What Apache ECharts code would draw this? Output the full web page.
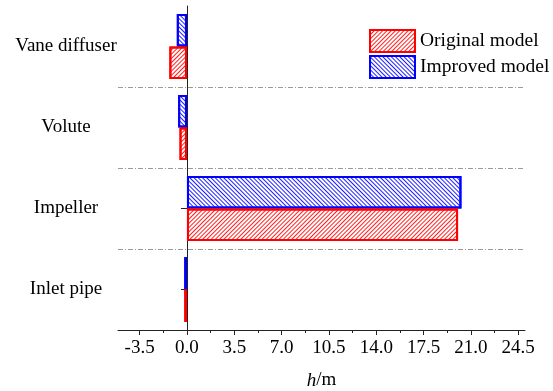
<!DOCTYPE html>
<html>
<head>
<meta charset="utf-8">
<script src="https://cdn.jsdelivr.net/npm/echarts@6/dist/echarts.min.js"></script>
<style>
  html, body { margin: 0; padding: 0; background: #fff; }
  #chart { width: 553px; height: 391px; }
</style>
</head>
<body>
<div id="chart"></div>
<script>
// categories from bottom to top
const categories = ['Inlet pipe', 'Impeller', 'Volute', 'Vane diffuser'];
// head loss h (m)
const originalModel = [-0.2, 20.05, -0.55, -1.3];
const improvedModel = [-0.2, 20.3, -0.65, -0.75];
// x axis tick labels and minor ticks
const tickLabels = [-3.5, 0, 3.5, 7, 10.5, 14, 17.5, 21, 24.5];
const minorTicks = [-1.75, 1.75, 5.25, 8.75, 12.25, 15.75, 19.25, 22.75];

const font = 'Liberation Serif';
let chart = echarts.init(document.getElementById('chart'));

function hatch(color, rot) {
  return {
    symbol: 'rect',
    symbolSize: 1,
    color: color,
    dashArrayX: [1, 0],
    dashArrayY: [1, 2],
    rotation: rot
  };
}

let option = {
  animation: false,
  backgroundColor: '#fff',
  grid: { left: 118, right: 28, top: 6, bottom: 61, outerBoundsMode: 'none' },
  legend: {
    orient: 'vertical',
    left: 369,
    top: 29,
    padding: 0,
    icon: 'rect',
    itemWidth: 45,
    itemHeight: 22,
    itemGap: 2,
    textStyle: { fontFamily: font, fontSize: 19.5, color: '#000', lineHeight: 22 },
    data: ['Original model', 'Improved model']
  },
  xAxis: [{
    type: 'value',
    min: -5.1,
    max: 25,
    name: '{i|h}/m',
    nameLocation: 'middle',
    nameGap: 41,
    nameTextStyle: {
      fontFamily: font, fontSize: 19, color: '#000',
      rich: { i: { fontFamily: font, fontSize: 19, fontStyle: 'italic', color: '#000' } }
    },
    axisLine: { show: true, lineStyle: { color: '#222', width: 1 } },
    axisTick: { show: true, length: 5, customValues: tickLabels, lineStyle: { color: '#222' } },
    axisLabel: {
      customValues: tickLabels,
      margin: 9,
      fontFamily: font, fontSize: 19, color: '#000',
      formatter: function (v) { return v.toFixed(1); }
    },
    splitLine: { show: false }
  }, {
    // minor ticks only
    type: 'value',
    position: 'bottom',
    min: -5.1,
    max: 25,
    axisLine: { show: false },
    axisTick: { show: true, length: 3, customValues: minorTicks, lineStyle: { color: '#222' } },
    axisLabel: { show: false },
    splitLine: { show: false }
  }],
  yAxis: [{
    // labels and dash-dot separators
    type: 'category',
    position: 'left',
    data: categories,
    axisLine: { show: false, onZero: false },
    axisTick: { show: false },
    axisLabel: { align: 'center', margin: 52, fontFamily: font, fontSize: 19, color: '#000' },
    splitLine: {
      show: true,
      showMinLine: false,
      showMaxLine: false,
      lineStyle: { color: '#9a9a9a', width: 1, type: [5, 2, 1, 2] }
    }
  }, {
    // vertical line through zero
    type: 'category',
    position: 'left',
    data: categories,
    axisLine: { show: true, onZero: true, lineStyle: { color: '#222', width: 1 } },
    axisTick: { show: true, alignWithLabel: true, length: 6, lineStyle: { color: '#222' } },
    axisLabel: { show: false },
    splitLine: { show: false }
  }],
  // improved listed first so that it sits above the original bar
  series: [{
    name: 'Improved model',
    type: 'bar',
    yAxisIndex: 0,
    barGap: '0%',
    barCategoryGap: '20%',
    itemStyle: { color: '#fff', borderColor: '#0000ff', borderWidth: 2, decal: hatch('#2020ff', Math.PI / 4) },
    data: improvedModel
  }, {
    name: 'Original model',
    type: 'bar',
    yAxisIndex: 0,
    barGap: '0%',
    barCategoryGap: '20%',
    itemStyle: { color: '#fff', borderColor: '#ff0000', borderWidth: 2, decal: hatch('#ff2020', -Math.PI / 4) },
    data: originalModel
  }]
};
chart.setOption(option);
</script>
</body>
</html>
